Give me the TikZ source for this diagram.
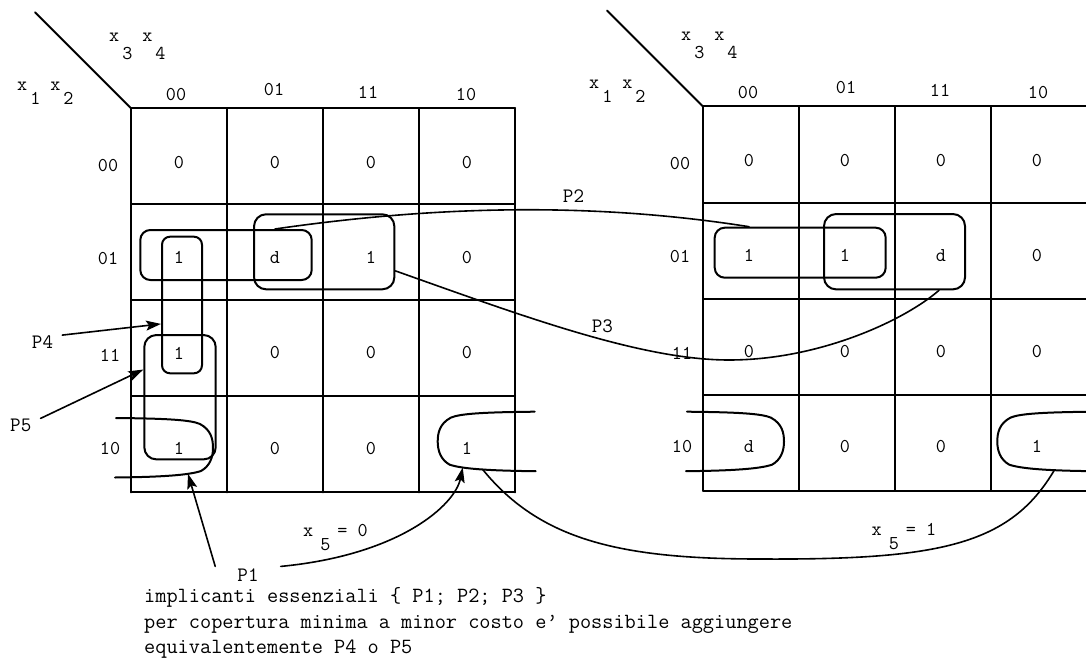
\documentclass[tikz,border=0pt]{standalone}
\usepackage{fontspec}
\usetikzlibrary{arrows.meta}

\newcommand{\xsub}[2][14pt]{x\kern3pt\lower#1\hbox{#2}}

\tikzset{
	bulge/.pic={
		\draw[loopline] (-97,-30) .. controls (-45,-29.5) and (-22,-28) .. (-13,-24)
			.. controls (-2,-18) and (0,-9) .. (0,0)
			.. controls (0,9) and (-3,18) .. (-12,23)
			.. controls (-24,27) and (-50,29) .. (-98,29.5);
		\coordinate (-b25) at (-25,25.8);
		\coordinate (-b45) at (-45,27.8);
		\coordinate (-b57) at (-57,28.5);
	}
}

\begin{document}
\begin{tikzpicture}[
			x=1pt, y=-1pt,
			line cap=round, line join=round,
			font=\ttfamily\fontsize{19.6}{22}\selectfont,
			>={Stealth[length=15pt,width=10pt,inset=3pt]},
			gridline/.style={line width=2pt},
			loopline/.style={line width=2pt},
			loopbox/.style={draw, line width=2pt, rounded corners=10pt, inner sep=0pt},
			linkline/.style={line width=1.6pt},
			cellval/.style={inner sep=0pt},
			plabel/.style={font=\ttfamily\fontsize{20.5}{22}\selectfont, inner xsep=9pt, inner ysep=0pt},
			note/.style={font=\ttfamily\fontsize{21.7}{24}\selectfont, anchor=base west, inner sep=0pt},
		]
			\useasboundingbox (0,0) rectangle (1086,658);

			% the two maps
			\foreach \m/\ox/\oy in {L/131/108.3, R/703/106.5} {
				\foreach \i in {0,...,4} {
					\draw[gridline] ({\ox+96*\i},\oy) -- ++(0,384);
					\draw[gridline] (\ox,{\oy+96*\i}) -- ++(384,0);
				}
				\draw[gridline] (\ox,\oy) -- ++(-96,-96);
				\node[anchor=base west, inner sep=0pt] (\m-x34) at ({\ox-22},{\oy-66.4}) {\xsub[18pt]{3}\kern10pt\xsub[18pt]{4}};
				\node[anchor=base west, inner sep=0pt] (\m-x12) at ({\ox-114},{\oy-18}) {\xsub{1}\kern10pt\xsub{2}};
				\foreach \t/\dx/\dy [count=\c from 0] in {00/45/-14, 01/143/-19, 11/237/-16, 10/335/-14}
					\node (\m-c\c) at ({\ox+\dx},{\oy+\dy}) {\t};
				\foreach \t/\dx/\dy [count=\r from 0] in {00/-23/57, 01/-23/150, 11/-21/247, 10/-21/340}
					\node (\m-r\r) at ({\ox+\dx},{\oy+\dy}) {\t};
			}

			\foreach \vals [count=\r from 0] in {{0,0,0,0},{1,d,1,0},{1,0,0,0},{1,0,0,1}}
				\foreach \v [count=\c from 0] in \vals
					\node[cellval] (L-\r-\c) at ({131+48+96*\c},{108.3+54+95.3*\r}) {\v};
			\foreach \vals [count=\r from 0] in {{0,0,0,0},{1,1,d,0},{0,0,0,0},{d,0,0,1}}
				\foreach \v [count=\c from 0] in \vals
					\node[cellval] (R-\r-\c) at ({703+46+96*\c},{106.5+54+95.3*\r}) {\v};

			% implicants
			\node[loopbox, minimum width=171.4pt, minimum height=50pt] (P2L) at (226,255) {};
			\node[loopbox, minimum width=40pt, minimum height=136.6pt, rounded corners=8pt] (P4L) at (182,305) {};
			\node[loopbox, minimum width=71.4pt, minimum height=124.3pt, rounded corners=12pt] (P5L) at (180,397.2) {};
			\node[loopbox, minimum width=140.3pt, minimum height=75pt, rounded corners=12pt] (P3L) at (324.2,251.8) {};
			\node[loopbox, minimum width=171pt, minimum height=50pt] (P2R) at (800.2,252.7) {};
			\node[loopbox, minimum width=141pt, minimum height=75.3pt, rounded corners=12pt] (P3R) at (894.5,251.7) {};

			\pic (wLl) at (213,448) {bulge};
			\pic[xscale=-1] (wLr) at (437.7,441.7) {bulge};
			\pic (wRl) at (784,441.7) {bulge};
			\pic[xscale=-1] (wRr) at (997.3,441.7) {bulge};

			% labels and links
			\node[plabel] (lP2) at (573.5,196) {P2};
			\node[plabel] (lP3) at (602.3,326.7) {P3};
			\node[plabel] (lP4) at (42.5,341.7) {P4};
			\node[plabel] (lP5) at (20.8,425) {P5};
			\node[plabel, inner xsep=22pt, inner ysep=2pt] (lP1) at (248,575) {P1};
			\node[anchor=base west, inner sep=0pt] (x5a) at (303,536.7) {x\kern7pt\lower14pt\hbox{5}\kern7pt= 0};
			\node[anchor=base west, inner sep=0pt] (x5b) at (871.5,535) {x\kern7pt\lower14pt\hbox{5}\kern7pt= 1};

			\draw[linkline] (P2L.north -| L-1-1) .. controls (420,208) and (580,200) .. (P2R.north -| R-1-0);
			\draw[linkline] (P3L.-15) .. controls (520,315) and (640,360) .. (729,360)
				.. controls (820,360) and (905,320) .. (P3R.-41);
			\draw[linkline, ->] (lP4.north east) -- (P4L.222);
			\draw[linkline, ->] (lP5.north east) -- (P5L.143);
			\draw[linkline, ->] (lP1.north west) -- (wLl-b25);
			\draw[linkline, ->] (lP1.north east) .. controls (400,555) and (455,505) .. (wLr-b25);
			\draw[linkline] (wLr-b45) .. controls (540,540) and (620,559) .. (760,559)
				.. controls (940,560) and (1010,545) .. (wRr-b57);

			\node[note] (note1) at (144,602) {implicanti essenziali \{ P1; P2; P3 \}};
			\node[note] (note2) at (144,628) {per copertura minima a minor costo e’ possibile aggiungere};
			\node[note] (note3) at (144,653) {equivalentemente P4 o P5};
		\end{tikzpicture}
\end{document}
